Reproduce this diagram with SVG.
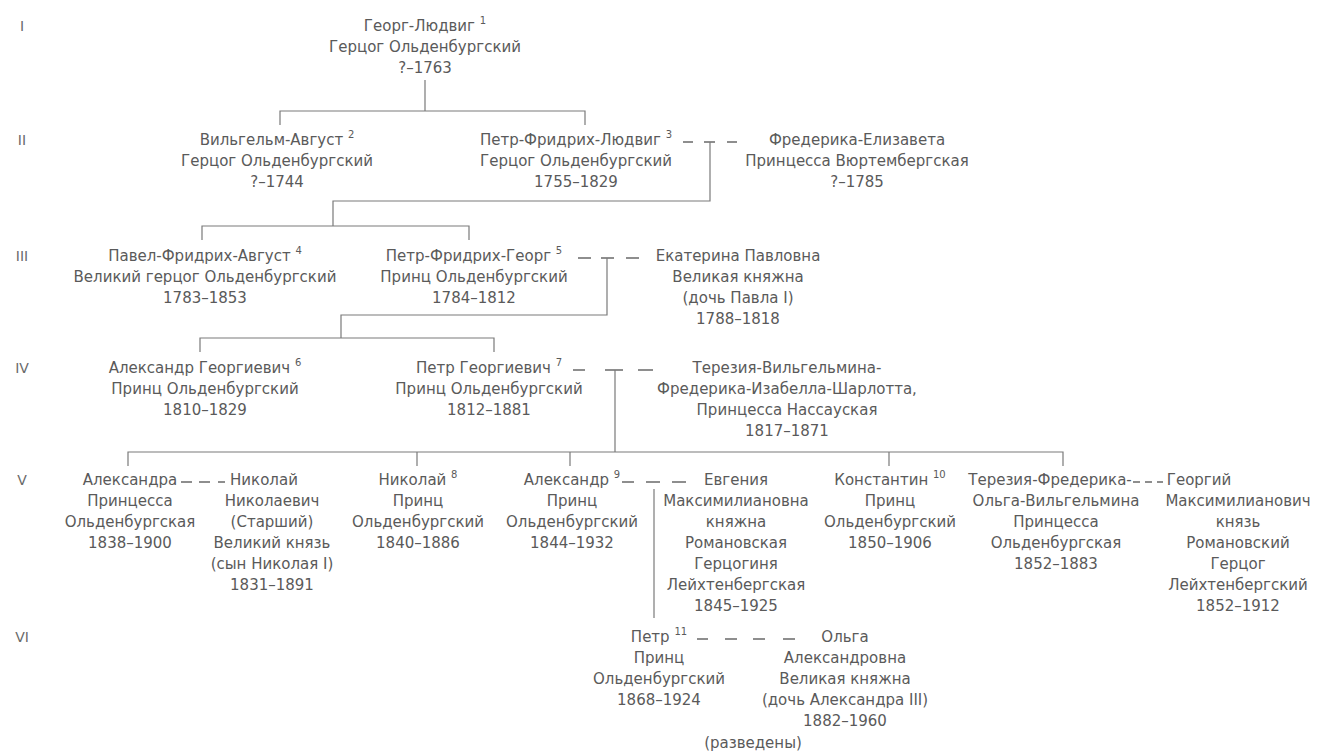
<svg xmlns="http://www.w3.org/2000/svg" width="1321" height="752" viewBox="0 0 1321 752">
<style>
text{font-family:"DejaVu Sans","Noto Sans",sans-serif;font-size:15px;fill:#5a5a5a;text-anchor:middle}
.lbl{font-family:"DejaVu Sans",sans-serif;font-size:14px;fill:#6a6a6a}
.sup{font-size:10px}
.ln{fill:none;stroke:#7a7a7a;stroke-width:1.2}
.mr{fill:none;stroke:#6a6a6a;stroke-width:1.3}
</style>
<rect width="1321" height="752" fill="#ffffff"/>
<g id="labels">
<text class="lbl" x="22" y="31">I</text>
<text class="lbl" x="22" y="145">II</text>
<text class="lbl" x="22" y="261">III</text>
<text class="lbl" x="22" y="373">IV</text>
<text class="lbl" x="22" y="485">V</text>
<text class="lbl" x="22" y="642">VI</text>
</g>
<g id="connectors">
<path class="ln" d="M425 80V111M280 125V111H585V125"/>
<path class="mr" d="M683 142h10M704 142h11M727 142h10"/>
<path class="ln" d="M710 142V201H333V226M202 240V226H469V240"/>
<path class="mr" d="M578 258h13M601 258h13M626 258h13"/>
<path class="ln" d="M607 258V315H341V338M200 352V338H494V352"/>
<path class="mr" d="M573 370h12M605 370h18M638 370h15"/>
<path class="ln" d="M615 370V452M128 466V452H1063V466M417 452V466M570 452V466M889 452V466"/>
<path class="mr" d="M181 482h11M199 482h11M218 482h7"/>
<path class="mr" d="M622 482h12M646 482h14M672 482h14"/>
<path class="ln" d="M654 489V618"/>
<path class="mr" d="M1133 482h7M1145 482h7M1157 482h6"/>
<path class="mr" d="M697 639h11M725 639h12M753 639h12M783 639h12"/>
</g>
<g id="n1">
<text x="425" y="31">Георг-Людвиг <tspan class="sup" dy="-7">1</tspan></text>
<text x="425" y="52">Герцог Ольденбургский</text>
<text x="425" y="73">?–1763</text>
</g>
<g id="n2">
<text x="277" y="145">Вильгельм-Август <tspan class="sup" dy="-7">2</tspan></text>
<text x="277" y="166">Герцог Ольденбургский</text>
<text x="277" y="187">?–1744</text>
</g>
<g id="n3">
<text x="576" y="145">Петр-Фридрих-Людвиг <tspan class="sup" dy="-7">3</tspan></text>
<text x="576" y="166">Герцог Ольденбургский</text>
<text x="576" y="187">1755–1829</text>
</g>
<g id="s3">
<text x="857" y="145">Фредерика-Елизавета</text>
<text x="857" y="166">Принцесса Вюртембергская</text>
<text x="857" y="187">?–1785</text>
</g>
<g id="n4">
<text x="205" y="261">Павел-Фридрих-Август <tspan class="sup" dy="-7">4</tspan></text>
<text x="205" y="282">Великий герцог Ольденбургский</text>
<text x="205" y="303">1783–1853</text>
</g>
<g id="n5">
<text x="474" y="261">Петр-Фридрих-Георг <tspan class="sup" dy="-7">5</tspan></text>
<text x="474" y="282">Принц Ольденбургский</text>
<text x="474" y="303">1784–1812</text>
</g>
<g id="s5">
<text x="738" y="261">Екатерина Павловна</text>
<text x="738" y="282">Великая княжна</text>
<text x="738" y="303">(дочь Павла I)</text>
<text x="738" y="324">1788–1818</text>
</g>
<g id="n6">
<text x="205" y="373">Александр  Георгиевич <tspan class="sup" dy="-7">6</tspan></text>
<text x="205" y="394">Принц Ольденбургский</text>
<text x="205" y="415">1810–1829</text>
</g>
<g id="n7">
<text x="489" y="373">Петр  Георгиевич <tspan class="sup" dy="-7">7</tspan></text>
<text x="489" y="394">Принц Ольденбургский</text>
<text x="489" y="415">1812–1881</text>
</g>
<g id="s7">
<text x="787" y="373">Терезия-Вильгельмина-</text>
<text x="787" y="394">Фредерика-Изабелла-Шарлотта,</text>
<text x="787" y="415">Принцесса Нассауская</text>
<text x="787" y="436">1817–1871</text>
</g>
<g id="n_alexandra">
<text x="130" y="485">Александра</text>
<text x="130" y="506">Принцесса</text>
<text x="130" y="527">Ольденбургская</text>
<text x="130" y="548">1838–1900</text>
</g>
<g id="s_nikolai">
<text x="264" y="485">Николай</text>
<text x="272" y="506">Николаевич</text>
<text x="272" y="527">(Старший)</text>
<text x="272" y="548">Великий князь</text>
<text x="272" y="569">(сын Николая I)</text>
<text x="272" y="590">1831–1891</text>
</g>
<g id="n8">
<text x="418" y="485">Николай <tspan class="sup" dy="-7">8</tspan></text>
<text x="418" y="506">Принц</text>
<text x="418" y="527">Ольденбургский</text>
<text x="418" y="548">1840–1886</text>
</g>
<g id="n9">
<text x="572" y="485">Александр <tspan class="sup" dy="-7">9</tspan></text>
<text x="572" y="506">Принц</text>
<text x="572" y="527">Ольденбургский</text>
<text x="572" y="548">1844–1932</text>
</g>
<g id="s9">
<text x="736" y="485">Евгения</text>
<text x="736" y="506">Максимилиановна</text>
<text x="736" y="527">княжна</text>
<text x="736" y="548">Романовская</text>
<text x="736" y="569">Герцогиня</text>
<text x="736" y="590">Лейхтенбергская</text>
<text x="736" y="611">1845–1925</text>
</g>
<g id="n10">
<text x="890" y="485">Константин <tspan class="sup" dy="-7">10</tspan></text>
<text x="890" y="506">Принц</text>
<text x="890" y="527">Ольденбургский</text>
<text x="890" y="548">1850–1906</text>
</g>
<g id="n_tereza">
<text x="1050" y="485">Терезия-Фредерика-</text>
<text x="1056" y="506">Ольга-Вильгельмина</text>
<text x="1056" y="527">Принцесса</text>
<text x="1056" y="548">Ольденбургская</text>
<text x="1056" y="569">1852–1883</text>
</g>
<g id="s_georgy">
<text x="1199" y="485">Георгий</text>
<text x="1238" y="506">Максимилианович</text>
<text x="1238" y="527">князь</text>
<text x="1238" y="548">Романовский</text>
<text x="1238" y="569">Герцог</text>
<text x="1238" y="590">Лейхтенбергский</text>
<text x="1238" y="611">1852–1912</text>
</g>
<g id="n11">
<text x="659" y="642">Петр <tspan class="sup" dy="-7">11</tspan></text>
<text x="659" y="663">Принц</text>
<text x="659" y="684">Ольденбургский</text>
<text x="659" y="705">1868–1924</text>
</g>
<g id="s11">
<text x="845" y="642">Ольга</text>
<text x="845" y="663">Александровна</text>
<text x="845" y="684">Великая княжна</text>
<text x="845" y="705">(дочь Александра III)</text>
<text x="845" y="726">1882–1960</text>
<text x="753" y="748">(разведены)</text>
</g>
</svg>
